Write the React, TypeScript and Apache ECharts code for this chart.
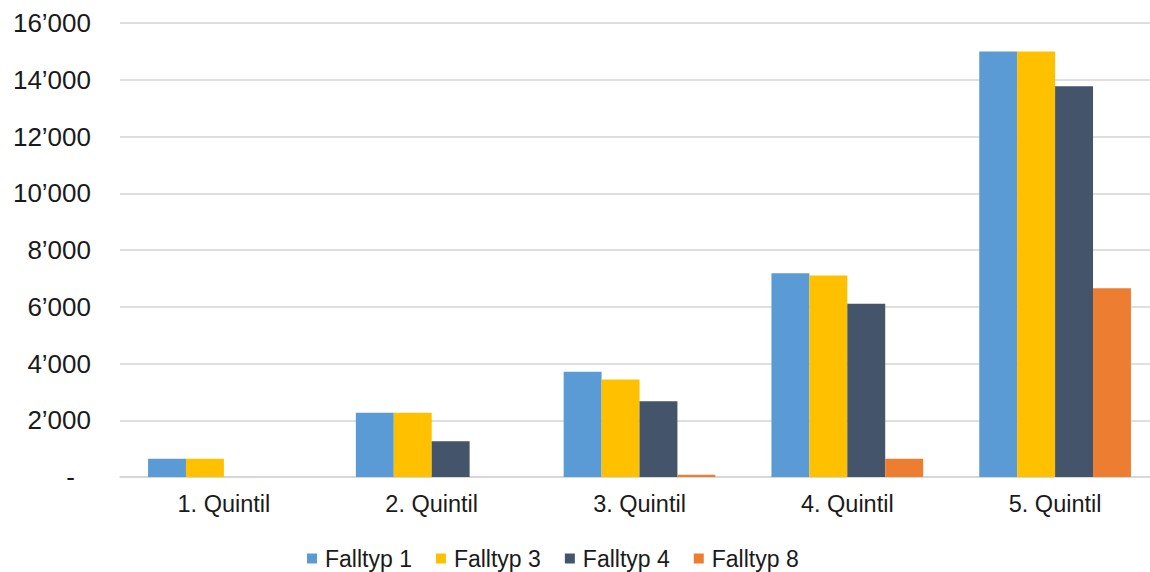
import React, { useEffect, useRef } from "react";
import * as echarts from "echarts";

const categories = ["1. Quintil", "2. Quintil", "3. Quintil", "4. Quintil", "5. Quintil"];
const seriesNames = ["Falltyp 1", "Falltyp 3", "Falltyp 4", "Falltyp 8"];
const falltyp1 = [640, 2260, 3710, 7180, 15000];
const falltyp3 = [640, 2260, 3440, 7100, 15000];
const falltyp4 = [0, 1260, 2670, 6110, 13770];
const falltyp8 = [0, 0, 80, 640, 6650];
const colors = ["#5B9BD5", "#FFC000", "#44546A", "#ED7D31"];

function fmt(v: number): string {
  if (v === 0) return "{d|-}";
  const s = String(Math.round(v));
  return s.replace(/\B(?=(\d{3})+(?!\d))/g, "\u2019");
}

const FONT = "Liberation Sans, Arial, sans-serif";

export default function App() {
  const ref = useRef<HTMLDivElement>(null);
  useEffect(() => {
    if (!ref.current) return;
    const chart = echarts.init(ref.current, undefined, { renderer: "svg" });
    const data = [falltyp1, falltyp3, falltyp4, falltyp8];
    chart.setOption({
      animation: false,
      textStyle: { fontFamily: FONT },
      grid: { left: 120, right: 11, top: 23, bottom: 95, containLabel: false },
      legend: {
        data: seriesNames,
        left: 302,
        top: 542,
        icon: "rect",
        itemWidth: 10,
        itemHeight: 10,
        itemGap: 24,
        textStyle: { fontSize: 23, color: "#1a1a1a", fontFamily: FONT, padding: [0, 0, 0, 3] },
      },
      xAxis: {
        type: "category",
        data: categories,
        axisLine: { show: true, lineStyle: { color: "#d4d4d4", width: 1.5 } },
        axisTick: { show: false },
        axisLabel: { fontSize: 23.5, color: "#1a1a1a", margin: 15, fontFamily: FONT },
      },
      yAxis: {
        type: "value",
        min: 0,
        max: 16000,
        interval: 2000,
        axisLine: { show: false },
        axisTick: { show: false },
        splitLine: { lineStyle: { color: "#d4d4d4", width: 1.5 } },
        axisLabel: {
          fontSize: 26,
          color: "#1a1a1a",
          margin: 29,
          fontFamily: FONT,
          formatter: fmt,
          rich: { d: { fontSize: 26, color: "#1a1a1a", padding: [0, 16, 0, 0], fontFamily: FONT } },
        },
      },
      series: seriesNames.map((name, i) => ({
        name,
        type: "bar",
        data: data[i],
        barGap: "0%",
        barCategoryGap: "27%",
        itemStyle: { color: colors[i] },
      })),
    });
    return () => chart.dispose();
  }, []);
  return (
    <div style={{ position: "absolute", left: 0, top: 0, width: 1150, height: 572, overflow: "hidden" }}>
      <div ref={ref} style={{ width: 1170, height: 572 }} />
    </div>
  );
}
